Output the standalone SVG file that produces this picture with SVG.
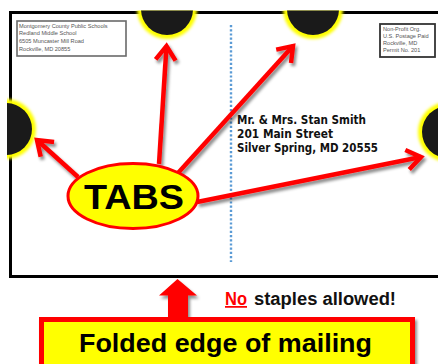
<svg xmlns="http://www.w3.org/2000/svg" width="438" height="364" viewBox="0 0 438 364">
<defs>
<style>
.tiny{font-family:"Liberation Sans",Arial,sans-serif;font-size:5.6px;fill:#555}
.addr{font-family:"DejaVu Sans","Liberation Sans",sans-serif;font-weight:bold;font-size:11.5px;fill:#111}
.conn{fill:none;stroke:#ff0000;stroke-width:4.5;stroke-linecap:butt}
.glow{fill:#ffff00;filter:url(#blur)}
.hole{fill:#1a1a1a}
</style>
<filter id="blur" x="-30%" y="-30%" width="160%" height="160%"><feGaussianBlur stdDeviation="1.6"/></filter>
<filter id="shadow" x="-20%" y="-20%" width="140%" height="140%"><feDropShadow dx="2" dy="3" stdDeviation="1.5" flood-color="#000" flood-opacity="0.45"/></filter>
<clipPath id="env"><rect x="7" y="10.5" width="440" height="270"/></clipPath>
<marker id="chev" markerUnits="userSpaceOnUse" orient="auto" markerWidth="40" markerHeight="40" viewBox="-20 -20 40 40" overflow="visible">
<path d="M-14,-10 L0,0 L-14,10" fill="none" stroke="#ff0000" stroke-width="4.5" stroke-linejoin="miter" stroke-miterlimit="10"/>
</marker>
</defs>
<rect width="438" height="364" fill="#fff"/>

<g id="envelope">
<rect x="10.5" y="12.5" width="440" height="264" fill="#fff" stroke="#000" stroke-width="3"/>
<line x1="231" y1="25" x2="231" y2="262" stroke="#5b9bd5" stroke-width="2.4" stroke-dasharray="2.2,2"/>
</g>

<g id="return-address">
<rect x="17" y="21" width="109" height="35" fill="#fff" stroke="#6a6a6a" stroke-width="1.6"/>
<text class="tiny" x="19" y="27.5">Montgomery County Public Schools</text>
<text class="tiny" x="19" y="35">Redland Middle School</text>
<text class="tiny" x="19" y="42.5">6505 Muncaster Mill Road</text>
<text class="tiny" x="19" y="51">Rockville, MD 20855</text>
</g>

<g id="postage">
<rect x="380" y="24" width="55" height="33" fill="#fff" stroke="#333" stroke-width="1.8"/>
<text class="tiny" x="383" y="30.5">Non-Profit Org.</text>
<text class="tiny" x="383" y="37.5">U.S. Postage Paid</text>
<text class="tiny" x="383" y="44.5">Rockville, MD</text>
<text class="tiny" x="383" y="52">Permit No. 201</text>
</g>

<g clip-path="url(#env)">
<g id="tab-top-left">
<circle class="glow" cx="167" cy="9" r="30"/>
<circle class="hole" cx="167" cy="9" r="26"/>
</g>
<g id="tab-top-right">
<circle class="glow" cx="313" cy="9" r="30"/>
<circle class="hole" cx="313" cy="9" r="26"/>
</g>
<g id="tab-left">
<circle class="glow" cx="6" cy="129" r="30"/>
<circle class="hole" cx="6" cy="129" r="26"/>
</g>
<g id="tab-right">
<circle class="glow" cx="448" cy="132" r="30"/>
<circle class="hole" cx="448" cy="132" r="26"/>
</g>
</g>

<g id="address">
<text class="addr" x="237" y="124" textLength="129" lengthAdjust="spacingAndGlyphs">Mr. &amp; Mrs. Stan Smith</text>
<text class="addr" x="237" y="138" textLength="96" lengthAdjust="spacingAndGlyphs">201 Main Street</text>
<text class="addr" x="237" y="151.5" textLength="141" lengthAdjust="spacingAndGlyphs">Silver Spring, MD 20555</text>
</g>

<g id="connectors" filter="url(#shadow)">
<path class="conn" d="M78,177 L37,140" marker-end="url(#chev)"/>
<path class="conn" d="M159,164 L166.5,46" marker-end="url(#chev)"/>
<path class="conn" d="M178,173 L293,46" marker-end="url(#chev)"/>
<path class="conn" d="M197,202 L421,157" marker-end="url(#chev)"/>
<polygon points="177.5,279 159,295.5 168,295.5 168,318 188,318 188,295.5 197,295.5" fill="#ff0000"/>
</g>

<g id="tabs-label">
<ellipse cx="133" cy="196" rx="65" ry="32.5" fill="#ffff00" stroke="#ff0000" stroke-width="3"/>
<text x="134" y="208.5" text-anchor="middle" font-family="Liberation Sans, Arial, sans-serif" font-weight="bold" font-size="35" fill="#000" textLength="100" lengthAdjust="spacingAndGlyphs">TABS</text>
</g>

<g id="note">
<text x="225" y="305" font-family="Liberation Sans, Arial, sans-serif" font-weight="bold" font-size="17.5" fill="#ff0000" text-decoration="underline" textLength="22" lengthAdjust="spacingAndGlyphs">No</text>
<text x="254" y="305" font-family="Liberation Sans, Arial, sans-serif" font-weight="bold" font-size="17.5" fill="#111" textLength="142" lengthAdjust="spacingAndGlyphs">staples allowed!</text>
</g>

<g id="folded-label">
<rect x="41.5" y="319.5" width="371" height="50" fill="#ffff00" stroke="#ff0000" stroke-width="5" filter="url(#shadow)"/>
<text x="79" y="351.5" font-family="Liberation Sans, Arial, sans-serif" font-weight="bold" font-size="25.5" fill="#000" textLength="293" lengthAdjust="spacingAndGlyphs">Folded edge of mailing</text>
</g>
</svg>
